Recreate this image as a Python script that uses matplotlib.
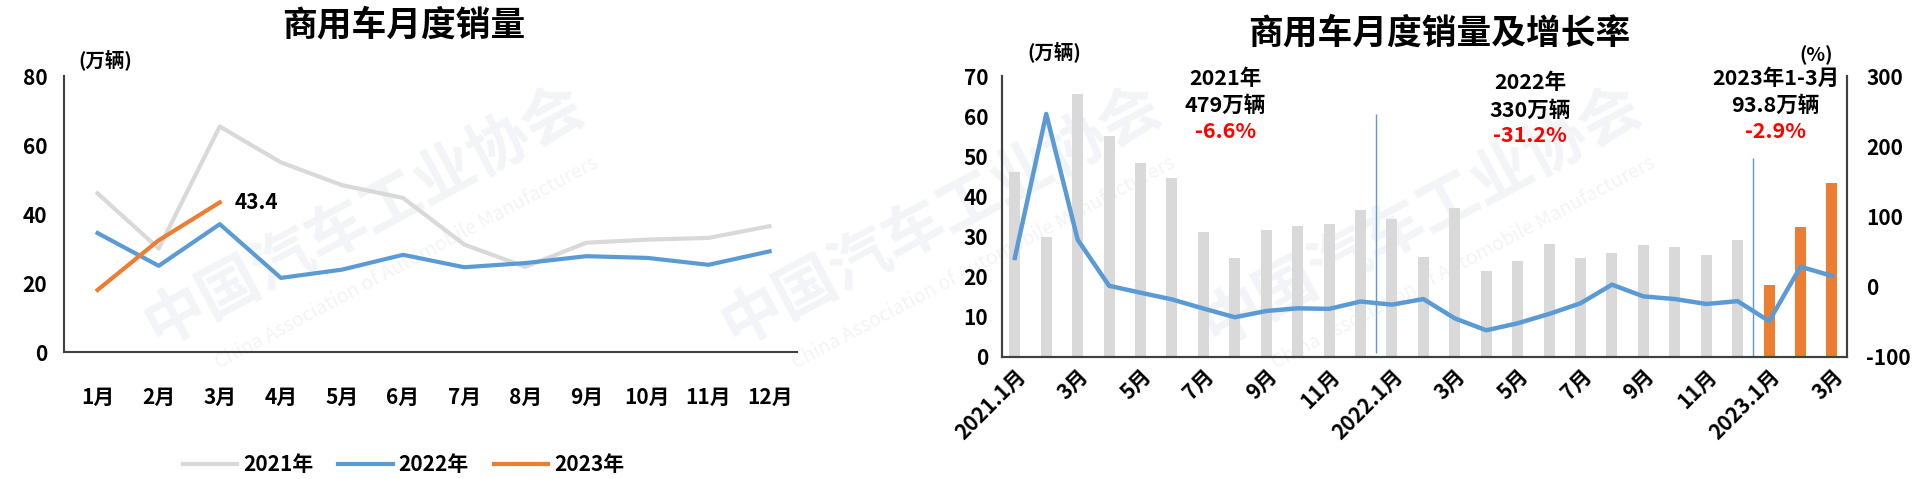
import matplotlib
matplotlib.use("Agg")
import matplotlib.pyplot as plt
import numpy as np

plt.rcParams['font.family'] = ['Noto Sans CJK SC', 'DejaVu Sans']
plt.rcParams['font.weight'] = 'bold'
plt.rcParams['axes.unicode_minus'] = False

# ---- data ----
months = ['1月', '2月', '3月', '4月', '5月', '6月', '7月', '8月', '9月', '10月', '11月', '12月']
sales_2021 = [46.0, 30.0, 65.4, 55.0, 48.4, 44.7, 31.2, 24.7, 31.7, 32.6, 33.1, 36.5]
sales_2022 = [34.5, 25.0, 37.1, 21.5, 23.9, 28.2, 24.6, 25.8, 27.8, 27.3, 25.3, 29.2]
sales_2023 = [18.0, 32.4, 43.4]
growth = [41, 246, 67, 1.4, -8.5, -18, -31, -43.4, -34.5, -30.7, -31.5, -21,
          -25.5, -17.5, -45, -62, -52, -38.7, -23.5, 3, -13.7, -17.5, -24.5, -20.5,
          -49, 28.5, 15.5]
right_ticklabels = ['2021.1月', '3月', '5月', '7月', '9月', '11月',
                    '2022.1月', '3月', '5月', '7月', '9月', '11月',
                    '2023.1月', '3月']
year_notes = [('2021年', '479万辆', '-6.6%'),
              ('2022年', '330万辆', '-31.2%'),
              ('2023年1-3月', '93.8万辆', '-2.9%')]

GRAY = '#D9D9D9'
BLUE = '#5B9BD5'
ORANGE = '#ED7D31'
SPINE = '#404040'

fig = plt.figure(figsize=(19.22, 4.79), dpi=100)

# faint watermark, kept behind the axes
for x0 in [0.07, 0.37, 0.62]:
    fig.text(x0, 0.55, '中国汽车工业协会', fontsize=44, color='#F3F4F7',
             rotation=28, ha='left', va='center', zorder=-5)
    fig.text(x0 + 0.04, 0.45, 'China Association of Automobile Manufacturers',
             fontsize=14, color='#F3F4F7', rotation=28, style='italic',
             fontweight='normal', ha='left', va='center', zorder=-5)

# ---- left chart ----
ax1 = fig.add_axes([0.0333, 0.265, 0.3814, 0.576])
ax1.patch.set_alpha(0)
x = np.arange(len(months))
ax1.plot(x, sales_2021, color=GRAY, lw=3, label='2021年')
ax1.plot(x, sales_2022, color=BLUE, lw=3, label='2022年')
ax1.plot(x[:len(sales_2023)], sales_2023, color=ORANGE, lw=3, label='2023年')
ax1.text(2 + 0.25, sales_2023[-1], f'{sales_2023[-1]}', fontsize=15,
         ha='left', va='center')
ax1.set_xlim(-0.55, 11.45)
ax1.set_ylim(0, 80)
ax1.set_yticks(np.arange(0, 81, 20))
ax1.set_xticks(x)
ax1.set_xticklabels(months)
ax1.tick_params(length=0, labelsize=15, pad=12)
ax1.tick_params(axis='x', pad=25)
for s in ['top', 'right']:
    ax1.spines[s].set_visible(False)
for s in ['left', 'bottom']:
    ax1.spines[s].set_color(SPINE)
    ax1.spines[s].set_linewidth(1.5)
ax1.text(0.02, 1.06, '(万辆)', transform=ax1.transAxes, fontsize=14,
         ha='left', va='center')
fig.text(0.21, 0.948, '商用车月度销量', fontsize=25, ha='center', va='center')
fig.legend(handles=ax1.get_lines(), loc='center', bbox_to_anchor=(0.21, 0.03),
           ncol=3, frameon=False, fontsize=15, handlelength=2.6,
           columnspacing=1.2, handletextpad=0.3)

# ---- right chart ----
ax = fig.add_axes([0.5213, 0.2547, 0.4397, 0.5866])
ax.patch.set_alpha(0)
n_prev = len(sales_2021) + len(sales_2022)
xb = np.arange(n_prev + len(sales_2023))
ax.bar(xb[:n_prev], sales_2021 + sales_2022, width=0.35, color=GRAY)
ax.bar(xb[n_prev:], sales_2023, width=0.35, color=ORANGE)
ax.set_xlim(-0.41, 26.48)
ax.set_ylim(0, 70)
ax.set_yticks(np.arange(0, 71, 10))
ax.set_xticks(xb[::2])
ax.set_xticklabels(right_ticklabels, rotation=45, ha='right', va='top',
                   rotation_mode='anchor')
ax.tick_params(length=0, labelsize=15)
ax.tick_params(axis='y', pad=10)
ax.tick_params(axis='x', pad=6)
ax.spines['top'].set_visible(False)
for s in ['left', 'bottom', 'right']:
    ax.spines[s].set_color(SPINE)
    ax.spines[s].set_linewidth(1.5)

ax.vlines(11.5, 1, 60.5, color=BLUE, lw=1)
ax.vlines(23.5, 0, 49.6, color=BLUE, lw=1)

ax2 = ax.twinx()
ax2.plot(xb, growth, color=BLUE, lw=3.2, solid_joinstyle='round')
ax2.set_ylim(-100, 300)
ax2.set_yticks(np.arange(-100, 301, 100))
ax2.tick_params(length=0, labelsize=15, pad=14)
ax2.spines['top'].set_visible(False)
for s in ['left', 'bottom', 'right']:
    ax2.spines[s].set_color(SPINE)
    ax2.spines[s].set_linewidth(1.5)

note_x = [6.7, 16.4, 24.2]
note_y = [[69.3, 62.8, 56.3], [68.3, 61.5, 55.1], [69.3, 62.8, 56.3]]
for (yr, tot, pct), nx, ny in zip(year_notes, note_x, note_y):
    ax.text(nx, ny[0], yr, fontsize=15.5, ha='center', va='center', clip_on=False)
    ax.text(nx, ny[1], tot, fontsize=15.5, ha='center', va='center', clip_on=False)
    ax.text(nx, ny[2], pct, fontsize=15.5, ha='center', va='center', color='red',
            clip_on=False)

ax.text(0.03, 1.085, '(万辆)', transform=ax.transAxes, fontsize=14,
        ha='left', va='center')
fig.text(0.945, 0.885, '(%)', fontsize=14, ha='center', va='center')
fig.text(0.749, 0.93, '商用车月度销量及增长率', fontsize=25, ha='center', va='center')

fig.savefig('out.png', dpi=100)
